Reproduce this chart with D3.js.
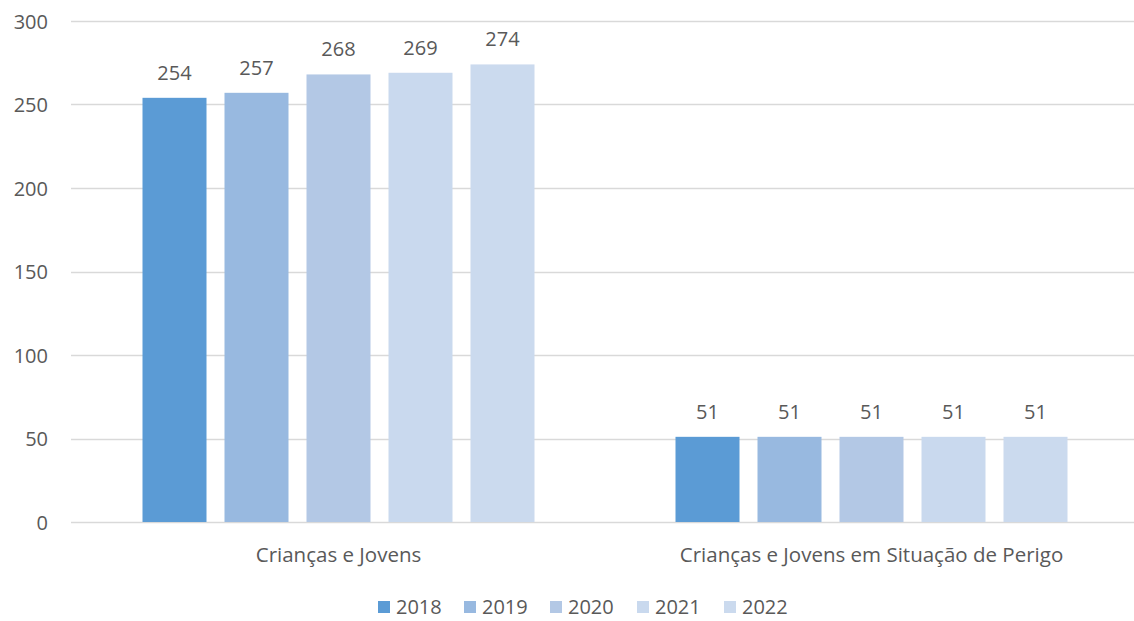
<!DOCTYPE html>
<html><head><meta charset="utf-8">
<script src="https://cdn.jsdelivr.net/npm/d3@7"></script>
<style>body{margin:0;background:#fff;} text{font-family:"Open Sans",sans-serif;fill:#595959;}</style>
</head><body><svg id="c" width="1134" height="621"></svg>
<script>
const categories = ["Crianças e Jovens", "Crianças e Jovens em Situação de Perigo"];
const years = ["2018", "2019", "2020", "2021", "2022"];
const values2018 = [254, 51];
const values2019 = [257, 51];
const values2020 = [268, 51];
const values2021 = [269, 51];
const values2022 = [274, 51];
const yTicks = [0, 50, 100, 150, 200, 250, 300];
const colors = ["#5B9BD5", "#98B9E0", "#B3C8E5", "#C9D9EE", "#CBDAEE"];
const series = [values2018, values2019, values2020, values2021, values2022];

(function(){
const svg = d3.select("#c");
const mLeft = 72, mRight = 1138, mTop = 21, mBottom = 522;
const x0 = d3.scaleBand().domain(categories).range([mLeft, mRight]).paddingInner(0).paddingOuter(0);
const x1 = d3.scaleBand().domain(years).range([70.5, x0.bandwidth() - 70.5]).paddingInner(18/82).paddingOuter(0);
const y = d3.scaleLinear().domain([0, 300]).range([mBottom, mTop]);

svg.append("g").selectAll("line").data(yTicks).join("line")
  .attr("x1", mLeft - 1).attr("x2", 1134)
  .attr("y1", d => Math.round(y(d)) + 0.5).attr("y2", d => Math.round(y(d)) + 0.5)
  .attr("stroke", "#D9D9D9").attr("stroke-width", 1.3);

const yAxis = d3.axisLeft(y).tickValues(yTicks).tickSize(0).tickPadding(0);
const ga = svg.append("g").attr("transform", `translate(48,0)`).call(yAxis);
ga.select(".domain").remove();
ga.selectAll("text").style("font-size", "20px").attr("dy", "0.35em").attr("fill", "#595959");

const groups = svg.append("g").selectAll("g").data(categories).join("g")
  .attr("transform", d => `translate(${x0(d)},0)`);
years.forEach((yr, si) => {
  groups.append("rect")
    .attr("x", x1(yr)).attr("width", x1.bandwidth())
    .attr("y", (d, ci) => y(series[si][ci]))
    .attr("height", (d, ci) => y(0) - y(series[si][ci]))
    .attr("fill", colors[si]);
  groups.append("text")
    .attr("x", x1(yr) + x1.bandwidth() / 2)
    .attr("y", (d, ci) => y(series[si][ci]) - 25)
    .attr("dy", "0.35em")
    .attr("text-anchor", "middle").style("font-size", "20px")
    .text((d, ci) => series[si][ci]);
});

const xAxis = d3.axisBottom(x0).tickSize(0).tickPadding(0);
const gx = svg.append("g").attr("transform", `translate(0,${mBottom})`).call(xAxis);
gx.select(".domain").remove();
gx.selectAll("text").style("font-size", "20.5px").attr("y", 33).attr("dy", "0.35em").attr("fill", "#595959");

const legX = [378, 464, 550, 637, 724];
const leg = svg.append("g").selectAll("g").data(years).join("g")
  .attr("transform", (d, i) => `translate(${legX[i]},601)`);
leg.append("rect").attr("width", 12).attr("height", 12).attr("fill", (d, i) => colors[i]);
leg.append("text").attr("x", 18).attr("y", 6).attr("dy", "0.35em").style("font-size", "20px").text(d => d);
})();
</script></body></html>
